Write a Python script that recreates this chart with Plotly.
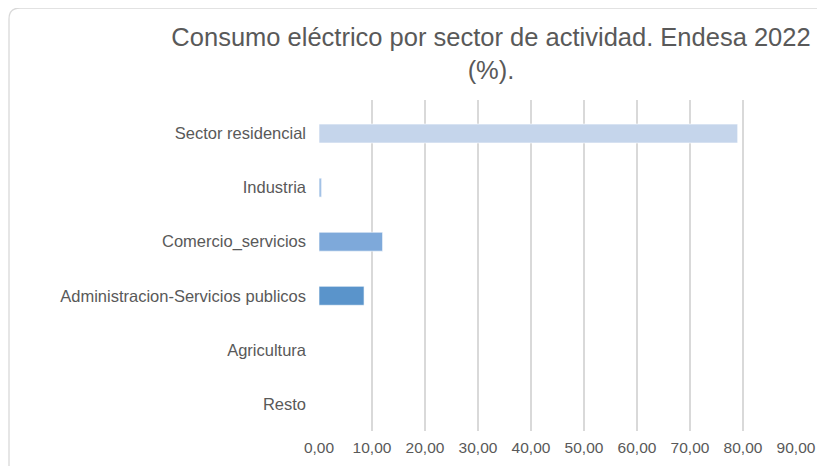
import plotly.graph_objects as go

sectores = ["Sector residencial", "Industria", "Comercio_servicios",
            "Administracion-Servicios publicos", "Agricultura", "Resto"]
porcentaje = [79.0, 0.5, 12.0, 8.5, 0.0, 0.0]
colores = ["#C5D5EB", "#A3C2E6", "#7EA9DA", "#5A94CB", "#3F78B5", "#2E5F96"]
ticks_x = [0, 10, 20, 30, 40, 50, 60, 70, 80, 90]
ticks_x_txt = ["0,00", "10,00", "20,00", "30,00", "40,00", "50,00",
               "60,00", "70,00", "80,00", "90,00"]

# the page body has an 8px margin, so figure coordinates are shifted by 8px
W, H = 825, 466
L, R, T, B = 311, 37, 92, 43
pw, ph = W - L - R, H - T - B

def px_x(v):
    return (v - L) / pw

def px_y(v):
    return (H - B - v) / ph

fig = go.Figure()
fig.add_trace(go.Bar(
    x=porcentaje,
    y=sectores,
    orientation="h",
    width=0.35,
    marker=dict(color=colores, line=dict(color="rgba(255,255,255,0.6)", width=1)),
    hoverinfo="x+y",
))

# rounded border of the chart area
x0, x1 = px_x(1), px_x(840)
y0, y1 = px_y(0), px_y(480)
rx, ry = 11 / pw, 11 / ph
fig.add_shape(
    type="path", xref="paper", yref="paper",
    path=(f"M {x0},{y1} L {x0},{y0 - ry} Q {x0},{y0} {x0 + rx},{y0} "
          f"L {x1},{y0}"),
    line=dict(color="#D9D9D9", width=1.3),
)

fig.update_layout(
    width=W, height=H,
    margin=dict(l=L, r=R, t=T, b=B, autoexpand=False),
    paper_bgcolor="white",
    plot_bgcolor="white",
    showlegend=False,
    font=dict(family="Liberation Sans, Arial, sans-serif", color="#595959", size=15),
    title=dict(
        text="Consumo eléctrico por sector de actividad. Endesa 2022<br>(%).",
        x=483 / W, xanchor="center", xref="container",
        y=1 - 38 / H, yanchor="top", yref="container",
        font=dict(size=25.5, color="#595959"),
    ),
    xaxis=dict(
        range=[0, 90],
        tickvals=ticks_x,
        ticktext=ticks_x_txt,
        showgrid=True,
        gridcolor="#D9D9D9",
        gridwidth=1.5,
        zeroline=False,
        showline=False,
        ticks="",
        automargin=False,
        ticklabelstandoff=5,
        tickfont=dict(size=15.5, color="#595959"),
    ),
    yaxis=dict(
        range=[5.5, -0.62],
        showgrid=False,
        zeroline=False,
        showline=False,
        ticks="",
        automargin=False,
        ticklabelstandoff=12,
        tickfont=dict(size=16.5, color="#595959"),
    ),
    bargap=0.65,
)

fig.write_html("out.html")
